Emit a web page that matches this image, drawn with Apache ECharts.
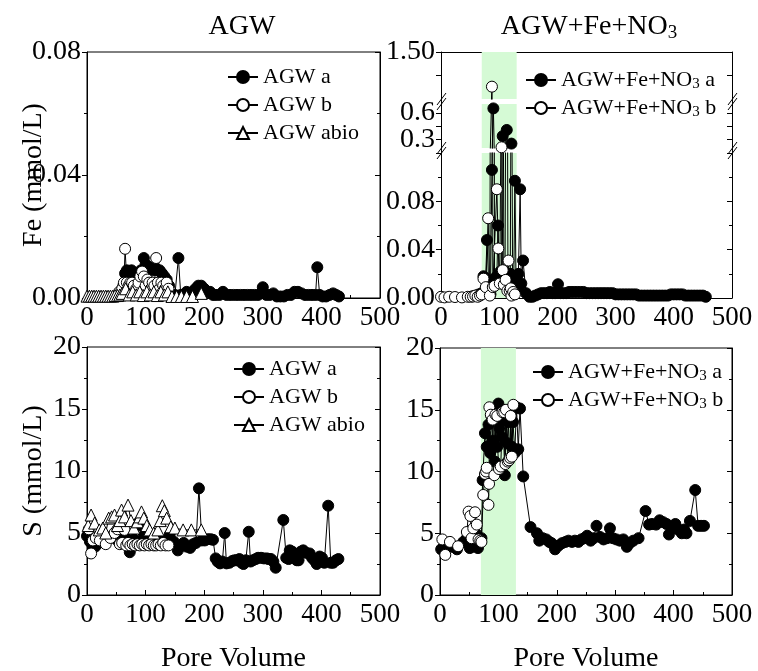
<!DOCTYPE html>
<html>
<head>
<meta charset="utf-8">
<title>Fe and S breakthrough</title>
<script src="https://cdn.jsdelivr.net/npm/echarts@6/dist/echarts.min.js"></script>
<style>
  html, body { margin: 0; padding: 0; background: #fff; }
  #chart { width: 758px; height: 671px; }
</style>
</head>
<body>
<div id="chart"></div>
<script>
// ---- data: [pore volume, concentration (mmol/L)] ----
const feAgwA = [[62,0.004],[65,0.008],[68,0.009],[72,0.008],[76,0.009],[80,0.008],[84,0.008],[88,0.007],[92,0.009],[97,0.013],[100,0.011],[104,0.010],[108,0.010],[112,0.009],[116,0.010],[120,0.009],[124,0.009],[128,0.008],[132,0.007],[136,0.006],[140,0.004],[145,0.001],[150,0.001],[156,0.013],[160,0.001],[165,0.001],[170,0.002],[175,0.001],[180,0.002],[185,0.003],[190,0.004],[195,0.004],[200,0.003],[205,0.002],[210,0.002],[215,0.001],[220,0.001],[226,0.001],[232,0.002],[238,0.001],[244,0.001],[250,0.001],[256,0.001],[262,0.001],[268,0.001],[274,0.001],[280,0.001],[286,0.001],[292,0.001],[300,0.0035],[306,0.001],[312,0.001],[318,0.0015],[324,0.0005],[330,0.0005],[336,0.0005],[342,0.001],[348,0.001],[354,0.002],[360,0.002],[366,0.0015],[372,0.001],[378,0.001],[384,0.001],[390,0.001],[393,0.010],[397,0.001],[402,0.0005],[408,0.0005],[414,0.001],[420,0.0015],[425,0.001],[430,0.0005]];
const feAgwB = [[55,0.002],[60,0.003],[63,0.005],[65,0.016],[68,0.005],[71,0.004],[74,0.005],[77,0.005],[80,0.004],[84,0.003],[88,0.005],[91,0.007],[94,0.0086],[97,0.007],[100,0.004],[103,0.006],[106,0.005],[109,0.003],[112,0.005],[115,0.004],[118,0.013],[121,0.005],[124,0.003],[127,0.005],[130,0.004],[133,0.003],[136,0.005],[139,0.003]];
const feAgwAbio = [[0,0.0006],[4,0.0006],[8,0.0006],[12,0.0006],[16,0.0006],[20,0.0006],[24,0.0006],[28,0.0006],[32,0.0006],[36,0.0006],[40,0.0006],[44,0.0006],[48,0.0008],[52,0.0008],[56,0.001],[60,0.0015],[66,0.003],[72,0.001],[78,0.002],[84,0.001],[90,0.002],[96,0.0008],[102,0.002],[108,0.001],[114,0.002],[120,0.0008],[126,0.002],[132,0.001],[138,0.002],[145,0.0005],[153,0.0005],[161,0.0005],[170,0.0005],[180,0.0005],[195,0.0015]];

const feNo3A = [[55,0.0015],[60,0.002],[65,0.003],[70,0.004],[73,0.018],[76,0.006],[79,0.048],[82,0.012],[85,0.003],[87.5,0.106],[90,0.65],[92,0.016],[94,0.012],[96,0.018],[98,0.06],[100,0.015],[102,0.022],[104,0.016],[106,0.335],[108,0.02],[110,0.014],[113,0.405],[115,0.018],[117,0.012],[119,0.02],[121,0.25],[123,0.018],[125,0.014],[127,0.097],[129,0.009],[131,0.008],[133,0.02],[136,0.09],[138,0.012],[141,0.031],[146,0.004],[152,0.001],[157,0.001],[162,0.002],[167,0.003],[172,0.004],[177,0.004],[182,0.004],[187,0.005],[192,0.004],[196,0.004],[201,0.0114],[205,0.004],[210,0.004],[215,0.004],[220,0.005],[225,0.005],[230,0.005],[235,0.005],[240,0.005],[245,0.005],[250,0.004],[255,0.004],[260,0.004],[265,0.004],[270,0.004],[275,0.004],[280,0.004],[285,0.004],[290,0.004],[295,0.004],[300,0.003],[305,0.003],[310,0.003],[315,0.003],[320,0.003],[325,0.003],[330,0.003],[335,0.003],[340,0.002],[345,0.002],[350,0.002],[355,0.002],[360,0.002],[365,0.002],[370,0.002],[375,0.002],[380,0.002],[385,0.002],[390,0.002],[395,0.003],[400,0.003],[405,0.003],[410,0.003],[415,0.003],[420,0.002],[425,0.002],[430,0.002],[435,0.002],[440,0.002],[445,0.002],[450,0.002],[455,0.001]];
const feNo3B = [[0,0.001],[6,0.0005],[14,0.001],[24,0.0008],[36,0.0005],[46,0.001],[51,0.001],[55,0.0012],[59,0.002],[63,0.001],[67,0.002],[70,0.003],[73,0.016],[77,0.009],[81,0.066],[84,0.002],[87.5,0.91],[89,0.009],[92,0.01],[96,0.09],[98.5,0.041],[101,0.012],[104,0.208],[106,0.023],[108,0.011],[111,0.015],[114,0.006],[116,0.031],[118,0.006],[120,0.008],[121,0.002],[124,0.005],[127,0.003]];

const sAgwA = [[0,4.75],[5,4.3],[10,4.0],[14,3.9],[20,4.2],[28,4.5],[36,4.6],[44,4.8],[52,4.4],[60,4.5],[66,4.6],[73,3.45],[80,4.5],[87,5.8],[92,5.6],[97,4.8],[104,4.5],[110,4.7],[118,4.4],[125,4.3],[132,4.4],[141,4.85],[148,4.3],[155,3.6],[160,4.0],[165,4.2],[170,3.9],[176,3.8],[181,4.1],[186,4.2],[191,8.6],[196,4.4],[201,4.4],[206,4.5],[211,4.5],[215,4.45],[219.6,2.95],[223,2.7],[227,2.55],[231,2.7],[235,5.0],[238,2.55],[243,2.6],[248,2.75],[252,2.8],[255,2.8],[260,2.9],[264,2.6],[267,2.5],[271,2.8],[276,5.1],[279,2.7],[283,2.8],[288,2.9],[292,3.0],[297,3.0],[302,2.95],[307,2.95],[310,2.9],[314,2.9],[318,2.7],[322,2.2],[335,6.05],[340,3.0],[344,2.9],[346,3.6],[350,3.5],[355,3.0],[358,2.8],[361,2.8],[365,3.5],[369,3.6],[374,3.4],[380,3.35],[384,3.0],[388,2.8],[392,2.5],[397,3.1],[401,3.0],[405,2.6],[411.6,7.2],[416,2.6],[420,2.6],[425,2.8],[429,2.9]];
const sAgwB = [[3,5.3],[7,3.35],[10,4.4],[15,4.6],[22,4.4],[32,4.1],[40,4.6],[47,5.0],[52,5.3],[56,4.1],[60,4.2],[64,5.25],[67,4.0],[70,4.2],[74,4.0],[78,4.1],[82,4.0],[86,4.1],[90,4.0],[94,4.1],[98,4.0],[102,4.1],[106,4.0],[110,4.1],[114,4.0],[118,4.0],[122,4.1],[126,4.0],[130,4.2],[134,4.0],[139,4.0]];
const sAgwAbio = [[2,5.6],[7,6.45],[13,5.8],[21,5.25],[27,5.4],[32,5.0],[37,6.2],[42,6.3],[47,6.45],[52,5.6],[56,6.0],[59,6.85],[64,6.3],[70,7.25],[75,6.0],[80,5.4],[86,5.9],[90,6.3],[93,6.7],[97,6.2],[102,5.6],[107,5.25],[114,5.0],[121,5.25],[125,6.0],[128.5,7.2],[132,6.8],[136,6.2],[143,5.5],[150,5.4],[164,5.25],[178,5.25],[195,5.25]];

const sNo3A = [[2,3.7],[12,4.1],[20,3.9],[29,3.7],[40,4.3],[46,4.6],[51,3.8],[55,3.9],[58,4.4],[61,5.0],[65,3.8],[68,4.4],[71,4.6],[73,9.3],[77,13.1],[80,12.0],[83,13.8],[86,11.5],[88,14.5],[90,12.5],[92,14.8],[94,10.8],[96,15.0],[98,12.0],[100,15.5],[102,13.5],[104,14.5],[106,12.8],[108,14.2],[111,9.7],[113,14.8],[115,12.3],[117,14.0],[119,11.0],[121,14.5],[123,12.0],[125,14.0],[128,11.5],[131,15.2],[134,11.8],[137,15.1],[142.5,9.6],[155,5.5],[166,5.0],[170,4.4],[176,4.6],[182,4.5],[187,4.3],[191,4.2],[197,3.7],[203,4.0],[209,4.2],[215,4.3],[220,4.4],[226,4.3],[231,4.4],[237,4.3],[242,4.5],[247,4.6],[252,4.8],[258,4.4],[263,4.6],[268,5.6],[274,4.7],[280,4.5],[286,4.6],[291,5.4],[296,4.6],[302,4.5],[308,4.4],[314,4.5],[320,3.9],[325,4.2],[331,4.4],[340,4.6],[352,6.8],[358,5.7],[363,5.75],[370,5.7],[376,6.05],[382,5.9],[388,5.75],[392,4.9],[397,5.4],[403,5.75],[408,5.3],[414,5.0],[418,5.3],[422,5.0],[428,6.0],[437,8.5],[442,5.6],[447,5.6],[452,5.6]];
const sNo3B = [[4,4.5],[9,3.25],[17,4.3],[31,3.95],[46,5.1],[49,6.75],[52,6.4],[54,4.6],[57,5.4],[60,6.7],[63,5.7],[66,4.5],[69,4.4],[71,4.3],[74,8.1],[77,9.8],[79,10.0],[80,10.3],[83,7.3],[84,9.0],[84.5,15.2],[87,14.6],[90,14.2],[93,9.7],[95,14.6],[98,14.5],[101,10.2],[104,10.4],[107,14.8],[110,14.8],[112,10.6],[113,15.0],[116,10.8],[118,10.9],[120,11.1],[121,14.5],[123,11.2],[125.5,15.4]];

// Fe+NO3 feeding period (pore volumes)
const feedBand = [70, 130];

// tick values for the broken Fe axis (+NO3 panel)
const feLowTicks = [0, 0.04, 0.08];
const feMidLabels = [0.3, 0.6];
const feMidTicks = [0.3, 0.45, 0.6];
const feTopLabels = [1.5];
const feTopTicks = [1.1, 1.5];

// ---- styling ----
const FONT = '"Liberation Serif", "Times New Roman", serif';
const BLACK = '#000';
const BAND_COLOR = 'rgb(213,250,213)';
const Y_LABEL_SIZE = 28;
const Y_LABEL_MARGIN = 6;

// grids: 0 Fe/AGW, 1-3 Fe/+NO3 (upper, middle, lower segments), 4 S/AGW, 5 S/+NO3
const gridBoxes = [
  { left: 87,  top: 52,  width: 293, height: 246 },
  { left: 441, top: 52,  width: 291, height: 47 },
  { left: 441, top: 104, width: 291, height: 44 },
  { left: 441, top: 153, width: 291, height: 145 },
  { left: 87,  top: 347, width: 293, height: 248 },
  { left: 440, top: 348, width: 292, height: 247 }
];
const framed = [true, false, false, false, true, true];

const grid = gridBoxes.map((b, i) => Object.assign({}, b, {
  show: framed[i], borderColor: BLACK, borderWidth: 1, backgroundColor: 'transparent',
  containLabel: false, outerBoundsMode: 'none'
}));

const tickLine = { color: BLACK, width: 1 };

function xAxisFor(i, mode, name) {
  const ax = {
    type: 'value', gridIndex: i, min: 0, max: 500, interval: 100,
    splitLine: { show: false },
    axisLine: { show: true, onZero: false, lineStyle: tickLine }
  };
  if (mode === 'hidden') { ax.show = false; return ax; }
  if (mode === 'top') {
    ax.position = 'top';
    ax.axisTick = { show: false };
    ax.minorTick = { show: false };
    ax.axisLabel = { show: false };
    return ax;
  }
  ax.position = 'bottom';
  ax.axisTick = { show: true, inside: true, length: 5, lineStyle: tickLine };
  ax.minorTick = { show: true, splitNumber: 2, length: 3, lineStyle: tickLine };
  ax.axisLabel = { show: true, margin: 6, fontFamily: FONT, fontSize: 27, color: BLACK, showMinLabel: true, showMaxLabel: true, hideOverlap: false };
  if (name) {
    ax.name = name;
    ax.nameLocation = 'middle';
    ax.nameGap = 50;
    ax.nameMoveOverlap = false;
    ax.nameTextStyle = { fontFamily: FONT, fontSize: 28, color: BLACK };
  }
  return ax;
}

function yPair(i, cfg) {
  const scale = { min: cfg.min, max: cfg.max };
  if (cfg.interval) scale.interval = cfg.interval;
  const left = Object.assign({
    type: 'value', gridIndex: i, position: 'left',
    splitLine: { show: false },
    axisLine: { show: true, onZero: false, lineStyle: tickLine },
    axisTick: { show: true, inside: false, length: 5, lineStyle: tickLine },
    minorTick: { show: !!cfg.minor, splitNumber: 2, length: 3, lineStyle: tickLine },
    axisLabel: {
      show: true, margin: Y_LABEL_MARGIN, fontFamily: FONT, fontSize: Y_LABEL_SIZE, color: BLACK,
      showMinLabel: true, showMaxLabel: true, hideOverlap: false, formatter: cfg.fmt
    }
  }, scale);
  if (cfg.labelValues) left.axisLabel.customValues = cfg.labelValues;
  if (cfg.tickValues) left.axisTick.customValues = cfg.tickValues;
  if (cfg.name) {
    left.name = cfg.name;
    left.nameLocation = 'middle';
    left.nameGap = 39;
    left.nameMoveOverlap = false;
    left.nameTextStyle = { fontFamily: FONT, fontSize: 28, color: BLACK };
  }
  const right = Object.assign({
    type: 'value', gridIndex: i, position: 'right',
    splitLine: { show: false },
    axisLine: { show: true, onZero: false, lineStyle: tickLine },
    axisTick: { show: true, inside: true, length: 5, lineStyle: tickLine },
    minorTick: { show: !!cfg.minor, splitNumber: 2, length: 3, lineStyle: tickLine },
    axisLabel: { show: false }
  }, scale);
  if (cfg.tickValues) right.axisTick.customValues = cfg.tickValues;
  return [left, right];
}

const fmt2 = v => v.toFixed(2);
const fmt1 = v => v.toFixed(1);
const fmt0 = v => String(Math.round(v));

const MID_AXIS = 4; // left y axis of the middle Fe segment
const yAxis = [].concat(
  yPair(0, { min: 0, max: 0.08, interval: 0.04, minor: true, fmt: fmt2, name: 'Fe (mmol/L)' }),
  yPair(1, { min: 0.7, max: 1.5, fmt: fmt2, labelValues: feTopLabels, tickValues: feTopTicks }),
  // the axis keeps the lower label; the upper one is placed as text beside its tick below
  yPair(2, { min: 0.2, max: 0.7, fmt: fmt1, labelValues: feMidLabels.slice(0, 1), tickValues: feMidTicks }),
  yPair(3, { min: 0, max: 0.12, interval: 0.04, minor: true, fmt: fmt2, labelValues: feLowTicks }),
  yPair(4, { min: 0, max: 20, interval: 5, minor: true, fmt: fmt0, name: 'S (mmol/L)' }),
  yPair(5, { min: 0, max: 20, interval: 5, minor: true, fmt: fmt0 })
);

const xAxis = [
  xAxisFor(0, 'full'),
  xAxisFor(1, 'top'),
  xAxisFor(2, 'hidden'),
  xAxisFor(3, 'full'),
  xAxisFor(4, 'full', 'Pore Volume'),
  xAxisFor(5, 'full', 'Pore Volume')
];

const markerStyles = {
  filled: { symbol: 'circle', symbolSize: 11, itemStyle: { color: BLACK, borderColor: BLACK, borderWidth: 1 } },
  open:   { symbol: 'circle', symbolSize: 11, itemStyle: { color: '#fff', borderColor: BLACK, borderWidth: 1 } },
  tri:    { symbol: 'triangle', symbolSize: 12, itemStyle: { color: '#fff', borderColor: BLACK, borderWidth: 1 } }
};

function band() {
  return {
    silent: true,
    itemStyle: { color: BAND_COLOR },
    data: [[{ xAxis: feedBand[0] }, { xAxis: feedBand[1] }]]
  };
}

function line(name, data, g, kind, withBand) {
  const s = Object.assign({
    type: 'line', name: name, data: data,
    xAxisIndex: g, yAxisIndex: 2 * g,
    showSymbol: true, showAllSymbol: true, clip: true,
    lineStyle: { color: BLACK, width: 1 },
    emphasis: { disabled: true },
    silent: true, animation: false
  }, markerStyles[kind]);
  if (withBand) s.markArea = band();
  return s;
}

const NO3A = 'AGW+Fe+NO3 a';
const NO3B = 'AGW+Fe+NO3 b';

const series = [
  line('AGW a', feAgwA, 0, 'filled'),
  line('AGW b', feAgwB, 0, 'open'),
  line('AGW abio', feAgwAbio, 0, 'tri'),

  line(NO3A, feNo3A, 1, 'filled', true),
  line(NO3B, feNo3B, 1, 'open'),
  line(NO3A, feNo3A, 2, 'filled', true),
  line(NO3B, feNo3B, 2, 'open'),
  line(NO3A, feNo3A, 3, 'filled', true),
  line(NO3B, feNo3B, 3, 'open'),

  line('AGW a', sAgwA, 4, 'filled'),
  line('AGW b', sAgwB, 4, 'open'),
  line('AGW abio', sAgwAbio, 4, 'tri'),

  line(NO3A, sNo3A, 5, 'filled', true),
  line(NO3B, sNo3B, 5, 'open')
];

const legendText = { fontFamily: FONT, fontSize: 22, color: BLACK, lineHeight: 24 };
const legendRich = {
  t: { fontFamily: FONT, fontSize: 22, color: BLACK, lineHeight: 24 },
  s: { fontFamily: FONT, fontSize: 15, color: BLACK, lineHeight: 12, verticalAlign: 'bottom' }
};
const subFormatter = n => '{t|' + n.replace('NO3', 'NO}{s|3}{t|') + '}';

function legendAt(left, top, names, sub) {
  const lg = {
    orient: 'vertical', left: left, top: top, padding: 0,
    itemWidth: 30, itemHeight: 15, itemGap: 4,
    selectedMode: false, data: names,
    textStyle: Object.assign({}, legendText)
  };
  if (sub) {
    lg.formatter = subFormatter;
    lg.textStyle.rich = legendRich;
  }
  return lg;
}

const legend = [
  legendAt(227, 65, ['AGW a', 'AGW b', 'AGW abio']),
  legendAt(525, 68, [NO3A, NO3B], true),
  legendAt(233, 357, ['AGW a', 'AGW b', 'AGW abio']),
  legendAt(532, 360, [NO3A, NO3B], true)
];

// panel titles, and the break symbols / axis-line joins of the broken Fe axis
const graphic = [];
graphic.push({
  id: 'title-agw', type: 'text', x: 242, y: 27, z: 100, silent: true,
  style: { text: 'AGW', font: '28px ' + FONT, fill: BLACK, align: 'center', verticalAlign: 'middle', textAlign: 'center', textVerticalAlign: 'middle' }
});
graphic.push({
  id: 'title-no3', type: 'text', x: 589, y: 27, z: 100, silent: true,
  style: {
    text: '{t|AGW+Fe+NO}{s|3}', fill: BLACK,
    align: 'center', verticalAlign: 'middle', textAlign: 'center', textVerticalAlign: 'middle',
    rich: {
      t: { fontFamily: FONT, fontSize: 28, lineHeight: 32, fill: BLACK },
      s: { fontFamily: FONT, fontSize: 19, lineHeight: 14, verticalAlign: 'bottom', fill: BLACK }
    }
  }
});

const segUpper = gridBoxes[1], segMid = gridBoxes[2], segLow = gridBoxes[3];
const joins = [
  [segUpper.top + segUpper.height, segMid.top],
  [segMid.top + segMid.height, segLow.top]
];
const sideX = [segLow.left, segLow.left + segLow.width];
joins.forEach((j, ji) => {
  const yc = (j[0] + j[1]) / 2;
  sideX.forEach((x, xi) => {
    graphic.push({
      id: 'join-' + ji + '-' + xi, type: 'line', z: 100, silent: true,
      shape: { x1: x + 0.5, y1: j[0] - 1, x2: x + 0.5, y2: j[1] + 1 },
      style: { stroke: BLACK, lineWidth: 1 }
    });
    [-2.5, 2.5].forEach((d, di) => {
      graphic.push({
        id: 'break-' + ji + '-' + xi + '-' + di, type: 'line', z: 101, silent: true,
        shape: { x1: x - 4, y1: yc + d + 6, x2: x + 5, y2: yc + d - 6 },
        style: { stroke: BLACK, lineWidth: 1 }
      });
    });
  });
});

const chart = echarts.init(document.getElementById('chart'), null, { renderer: 'canvas' });
chart.setOption({
  backgroundColor: '#fff',
  animation: false,
  grid: grid,
  xAxis: xAxis,
  yAxis: yAxis,
  legend: legend,
  series: series,
  graphic: graphic
});

// upper tick label of the middle segment, placed through the segment's own y scale
const midValue = feMidLabels[1];
const midY = chart.convertToPixel({ yAxisIndex: MID_AXIS }, midValue);
chart.setOption({
  graphic: [{
    id: 'mid-label', type: 'text', z: 100, silent: true,
    x: segMid.left - Y_LABEL_MARGIN, y: midY,
    style: {
      text: fmt1(midValue), font: Y_LABEL_SIZE + 'px ' + FONT, fill: BLACK,
      align: 'right', verticalAlign: 'middle', textAlign: 'right', textVerticalAlign: 'middle'
    }
  }]
});
</script>
</body>
</html>
